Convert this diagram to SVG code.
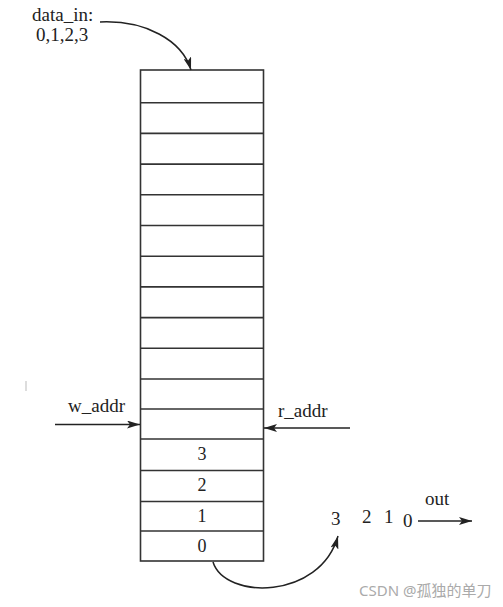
<svg xmlns="http://www.w3.org/2000/svg" width="503" height="607" viewBox="0 0 503 607">
<defs>
<style>
.t{font-family:"Liberation Serif","Times New Roman",serif;font-size:19px;fill:#222}
.c{font-family:"Liberation Serif","Times New Roman",serif;font-size:18px;fill:#222;text-anchor:middle}
.row{fill:#fff;stroke:#333;stroke-width:1.6}
.ln{fill:none;stroke:#222;stroke-width:1.5}
</style>
<marker id="ah" viewBox="0 0 13 8" refX="13" refY="4" markerWidth="13" markerHeight="8" markerUnits="userSpaceOnUse" orient="auto">
<path d="M0,0 L13,4 L0,8 L3,4 Z" fill="#222"/>
</marker>
</defs>
<rect width="503" height="607" fill="#fff"/>
<g id="memory">
<rect class="row" x="140.5" y="70" width="123" height="491" stroke-width="2"/>
<g stroke="#333" stroke-width="1.6">
<line x1="140.5" y1="102.7" x2="263.5" y2="102.7"/>
<line x1="140.5" y1="133.4" x2="263.5" y2="133.4"/>
<line x1="140.5" y1="164.1" x2="263.5" y2="164.1"/>
<line x1="140.5" y1="194.8" x2="263.5" y2="194.8"/>
<line x1="140.5" y1="225.5" x2="263.5" y2="225.5"/>
<line x1="140.5" y1="256.2" x2="263.5" y2="256.2"/>
<line x1="140.5" y1="286.9" x2="263.5" y2="286.9"/>
<line x1="140.5" y1="317.6" x2="263.5" y2="317.6"/>
<line x1="140.5" y1="348.3" x2="263.5" y2="348.3"/>
<line x1="140.5" y1="379" x2="263.5" y2="379"/>
<line x1="140.5" y1="409" x2="263.5" y2="409"/>
<line x1="140.5" y1="439" x2="263.5" y2="439"/>
<line x1="140.5" y1="470.5" x2="263.5" y2="470.5"/>
<line x1="140.5" y1="501.5" x2="263.5" y2="501.5"/>
<line x1="140.5" y1="531" x2="263.5" y2="531"/>
</g>
</g>
<g id="cell3"><text class="c" x="202" y="460">3</text></g>
<g id="cell2"><text class="c" x="202" y="491">2</text></g>
<g id="cell1"><text class="c" x="202" y="522">1</text></g>
<g id="cell0"><text class="c" x="202" y="552">0</text></g>
<g id="data_in">
<text class="t" x="32" y="21">data_in:</text>
<text class="t" x="36" y="41">0,1,2,3</text>
</g>
<g id="w_addr"><text class="t" x="68" y="412">w_addr</text></g>
<g id="r_addr"><text class="t" x="278" y="417">r_addr</text></g>
<g id="output">
<text class="t" x="331" y="525">3</text>
<text class="t" x="362" y="523">2</text>
<text class="t" x="384" y="523">1</text>
<text class="t" x="403" y="527">0</text>
<text class="t" x="425" y="505">out</text>
</g>
<g id="connectors">
<path class="ln" d="M100,22 C145,20 182,40 191,70" marker-end="url(#ah)"/>
<line class="ln" x1="55" y1="424.5" x2="140" y2="424.5" marker-end="url(#ah)"/>
<line class="ln" x1="350" y1="428" x2="264" y2="428" marker-end="url(#ah)"/>
<path class="ln" d="M213,562 C225,600 320,600 338,536" marker-end="url(#ah)"/>
<line class="ln" x1="418" y1="521" x2="472" y2="521" marker-end="url(#ah)"/>
</g>
<line x1="26" y1="381" x2="26" y2="391" stroke="#bbb" stroke-width="1"/>
<text x="359" y="596" style="font-family:'Noto Sans','Noto Sans CJK SC',sans-serif;font-size:15px;fill:#aaa">CSDN @孤独的单刀</text>
</svg>
